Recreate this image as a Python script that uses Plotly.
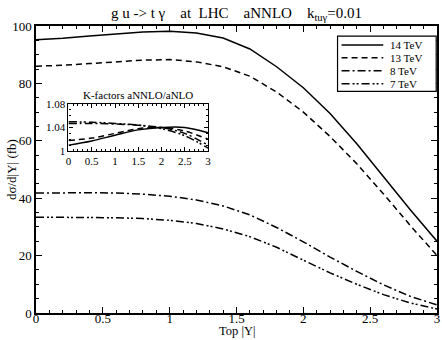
import plotly.graph_objects as go

# rapidity grid
y_abs = [0.0, 0.2, 0.4, 0.6, 0.8, 1.0, 1.2, 1.4, 1.6, 1.8, 2.0, 2.2, 2.4, 2.6, 2.8, 3.0]

# d sigma / d|Y| (fb)
xs_14 = [95.2, 95.7, 96.5, 97.3, 97.9, 98.2, 97.6, 95.8, 92.0, 85.8, 78.5, 69.5, 59.0, 47.5, 36.0, 25.0]
xs_13 = [86.0, 86.3, 86.9, 87.6, 88.1, 88.3, 87.5, 85.8, 82.5, 77.0, 70.0, 61.5, 52.0, 41.5, 30.5, 20.0]
xs_8 = [41.8, 41.9, 41.9, 41.8, 41.4, 40.7, 39.4, 37.3, 34.2, 29.8, 24.8, 19.5, 14.5, 9.8, 5.8, 2.8]
xs_7 = [33.4, 33.4, 33.4, 33.2, 32.9, 32.3, 31.2, 29.3, 26.6, 22.9, 18.4, 14.0, 10.0, 6.4, 3.5, 1.4]

# K-factors aNNLO/aNLO
k_x = [0.0, 0.5, 1.0, 1.5, 2.0, 2.5, 3.0]
k_14 = [1.010, 1.017, 1.027, 1.036, 1.040, 1.040, 1.031]
k_13 = [1.018, 1.022, 1.030, 1.038, 1.040, 1.034, 1.020]
k_8 = [1.047, 1.047, 1.046, 1.044, 1.040, 1.030, 1.010]
k_7 = [1.050, 1.049, 1.047, 1.044, 1.038, 1.026, 1.005]

labels = ["14 TeV", "13 TeV", "8 TeV", "7 TeV"]
dashes = ["solid", "6px,4px", "8px,3px,2px,3px", "8px,3px,2px,2px,2px,3px"]

FONT = "Liberation Serif, Times New Roman, Times, serif"

fig = go.Figure()
for vals, name, d in zip([xs_14, xs_13, xs_8, xs_7], labels, dashes):
    fig.add_trace(go.Scatter(x=y_abs, y=vals, mode="lines", name=name,
                             line=dict(color="black", width=1.5, dash=d)))
for vals, name, d in zip([k_14, k_13, k_8, k_7], labels, dashes):
    fig.add_trace(go.Scatter(x=k_x, y=vals, mode="lines", name=name,
                             xaxis="x2", yaxis="y2",
                             line=dict(color="black", width=1.5, dash=d, shape="spline")))

ax_common = dict(showgrid=False, zeroline=False, showline=True, linecolor="black",
                 linewidth=1.5, mirror="ticks", ticks="inside", tickcolor="black",
                 automargin=False,
                 tickfont=dict(family=FONT, size=13, color="black"))
inset_common = {**ax_common, "tickfont": dict(family=FONT, size=11, color="black"),
                "linewidth": 1.2}

# legend drawn as a boxed key in the top right corner
shapes = [dict(type="rect", xref="paper", yref="paper", x0=0.752, x1=0.998,
               y0=0.772, y1=0.965, line=dict(color="black", width=1.2),
               fillcolor="white", layer="above")]
annotations = []
for i, (name, d) in enumerate(zip(labels, dashes)):
    yy = 0.934 - i * 0.045
    shapes.append(dict(type="line", xref="paper", yref="paper", x0=0.762, x1=0.866,
                       y0=yy, y1=yy, line=dict(color="black", width=1.5, dash=d),
                       layer="above"))
    annotations.append(dict(text=name, xref="paper", yref="paper", x=0.88, y=yy,
                            xanchor="left", yanchor="middle", showarrow=False,
                            borderpad=0, font=dict(family=FONT, size=11, color="black")))

annotations += [
    dict(text="K-factors aNNLO/aNLO", xref="x2 domain", yref="y2 domain",
         x=0.5, y=1.02, xanchor="center", yanchor="bottom", showarrow=False,
         font=dict(family=FONT, size=11, color="black")),
    dict(text="Top |Y|", xref="paper", yref="paper", x=0.5, y=0,
         yshift=-26, xanchor="center", yanchor="bottom", showarrow=False,
         borderpad=0, font=dict(family=FONT, size=12.5, color="black")),
    dict(text="dσ/d|Y| (fb)", xref="paper", yref="paper", x=0, y=0.5,
         xshift=-34, xanchor="left", yanchor="middle", textangle=-90,
         showarrow=False, font=dict(family=FONT, size=13, color="black")),
]

fig.update_layout(
    width=442, height=340,
    margin=dict(l=35.5, r=4.5, t=26, b=27),
    paper_bgcolor="white", plot_bgcolor="white",
    font=dict(family=FONT, color="black"),
    showlegend=False,
    title=dict(text="g u -> t γ    at  LHC    aNNLO    k<sub>tuγ</sub>=0.01",
               x=0.535, xanchor="center", y=0.962, yanchor="middle",
               font=dict(family=FONT, size=15, color="black")),
    xaxis=dict(range=[0, 3], dtick=0.5, ticklen=6, ticklabelstandoff=-7,
               minor=dict(ticks="inside", dtick=0.1, ticklen=3, tickcolor="black"),
               **ax_common),
    yaxis=dict(range=[0, 100], dtick=20, ticklen=6,
               minor=dict(ticks="inside", dtick=5, ticklen=3, tickcolor="black"),
               **ax_common),
    xaxis2=dict(domain=[0.081, 0.429], anchor="y2", range=[0, 3], dtick=0.5,
                ticklen=4, minor=dict(ticks="inside", dtick=0.1, ticklen=2, tickcolor="black"),
                **inset_common),
    yaxis2=dict(domain=[0.5645, 0.728], anchor="x2", range=[1.0, 1.08],
                tickvals=[1.0, 1.04, 1.08], ticktext=["1", "1.04", "1.08"],
                ticklen=4, minor=dict(ticks="inside", dtick=0.01, ticklen=2, tickcolor="black"),
                **inset_common),
    shapes=shapes,
    annotations=annotations,
)

fig.write_html("out.html", config={"displayModeBar": False},
               post_script="document.body.style.margin='0';")
